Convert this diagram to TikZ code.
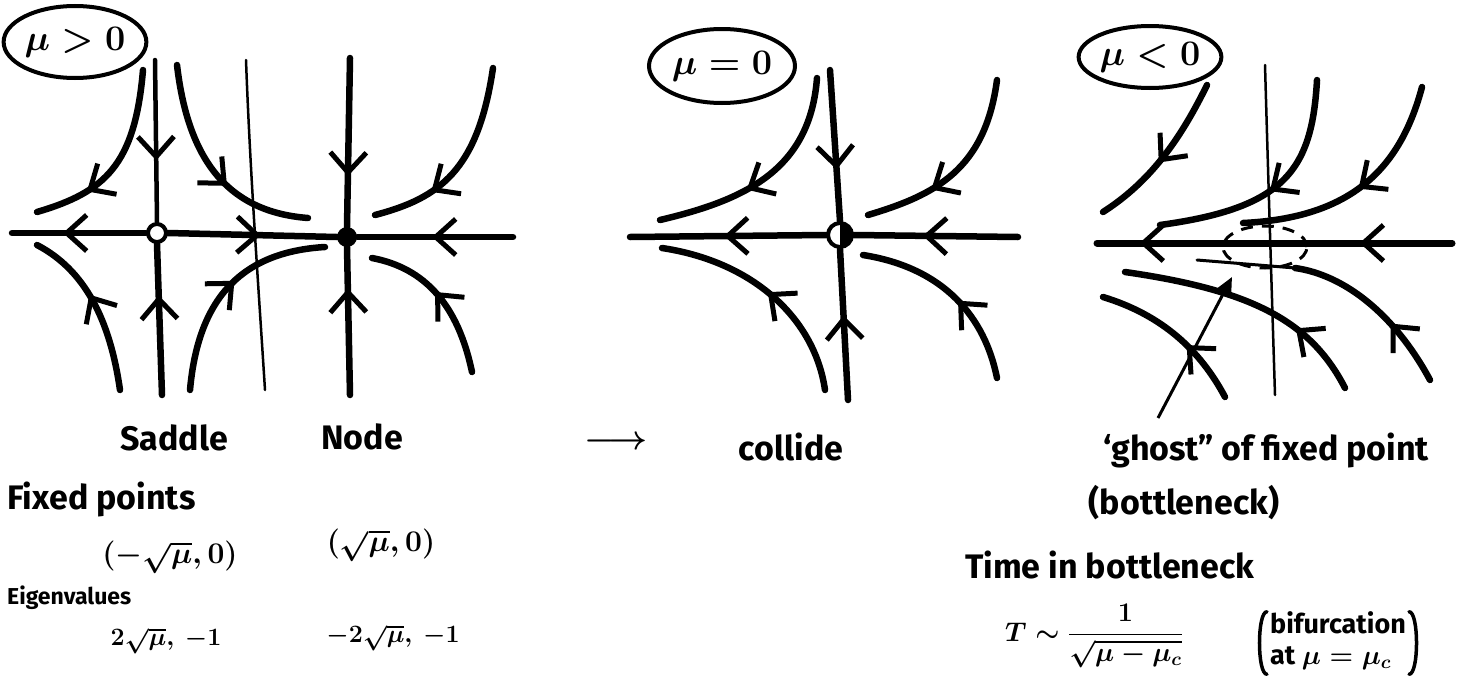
\RequirePackage{fix-cm}
\documentclass[tikz,border=0pt]{standalone}
\usepackage{fontspec}
\setmainfont{Fira Sans}
\usetikzlibrary{arrows.meta,decorations.markings,shapes.geometric}

\tikzset{
  flow/.style={line width=6.5pt, line cap=round},
  axisln/.style={line width=6.5pt, line cap=round},
  vline/.style={line width=4.5pt, line cap=round},
  nullc/.style={line width=2.5pt, line cap=round},
  flowat/.style={postaction={decorate, decoration={markings, mark=at position #1 with {\arrow[line width=5pt, line cap=round, line join=round]{Straight Barb[length=20pt, width=36pt]}}}}},
  saddlept/.style={circle, draw, fill=white, line width=4pt, minimum size=18pt, inner sep=0pt},
  nodept/.style={circle, fill, minimum size=20pt, inner sep=0pt},
  halfpt/.style={circle, draw, fill=white, line width=4pt, minimum size=24pt, inner sep=0pt,
    path picture={\fill[black] (path picture bounding box.north) rectangle (path picture bounding box.south east);}},
  muoval/.style={draw, ellipse, line width=4pt, inner sep=0pt, font=\fontsize{36}{40}\selectfont\boldmath},
  ghostoval/.style={draw, ellipse, dashed, dash pattern=on 12pt off 9pt, line width=3pt, minimum width=84pt, minimum height=42pt, inner sep=0pt},
  pointer/.style={line width=3pt, -{Triangle[length=18pt, width=16pt]}},
  paren/.style={line width=3.5pt, line cap=round},
  lbl/.style={inner sep=0pt, font=\fontsize{34}{40}\selectfont\bfseries\boldmath},
  mathlbl/.style={inner sep=0pt, font=\fontsize{30}{34}\selectfont\bfseries\boldmath},
  mlbl/.style={inner sep=0pt, font=\fontsize{25}{28}\selectfont\bfseries\boldmath},
  slbl/.style={inner sep=0pt, font=\fontsize{23}{26}\selectfont\bfseries\boldmath},
  plbl/.style={inner sep=0pt, font=\fontsize{27}{31}\selectfont\bfseries\boldmath},
  fraclbl/.style={inner sep=0pt, font=\fontsize{27}{31}\selectfont\bfseries\boldmath},
}

\begin{document}
\begin{tikzpicture}[x=1pt,y=-1pt]
\useasboundingbox (0,0) rectangle (1467,688);

% ================= Panel 1 : mu > 0 =================
\node[muoval, minimum width=120pt, minimum height=72pt] (mu1) at (75,42) {$\mu>0$};
\draw[nullc] (246,60) .. controls (250,170) and (258,280) .. (265,390);
\node[saddlept] (sad) at (157,233) {};
\node[nodept] (nd) at (347,237) {};
\coordinate (a1L) at (12,233);
\coordinate (a1R) at (513,237);
\draw[axisln, flowat=0.62] (sad.west) -- (a1L);
\draw[axisln, flowat=0.55] (sad.east) -- (nd.west);
\draw[axisln, flowat=0.52] (a1R) -- (nd.east);
% vertical manifolds
\coordinate (s1T) at (155,60);
\coordinate (s1B) at (162,395);
\draw[vline, flowat=0.62] (s1T) -- (sad.north);
\draw[flow, flowat=0.66] (s1B) -- (sad.south);
\coordinate (n1T) at (350,58);
\coordinate (n1B) at (350,395);
\draw[flow, flowat=0.7] (n1T) -- (nd.north);
\draw[flow, flowat=0.72] (n1B) -- (nd.south);
% trajectories
\draw[flow, flowat=0.72] (143,70) .. controls (135,165) and (105,192) .. (37,212);
\draw[flow, flowat=0.6] (177,65) .. controls (188,160) and (228,212) .. (308,218);
\draw[flow, flowat=0.7] (493,68) .. controls (478,170) and (440,198) .. (375,215);
\draw[flow, flowat=0.58] (120,390) .. controls (110,320) and (85,270) .. (37,245);
\draw[flow, flowat=0.55] (190,390) .. controls (198,300) and (240,252) .. (325,247);
\draw[flow, flowat=0.55] (472,372) .. controls (458,305) and (425,268) .. (372,258);

% ================= Panel 2 : mu = 0 =================
\node[muoval, minimum width=146pt, minimum height=74pt] (mu2) at (722,66) {$\mu=0$};
\node[halfpt] (fp0) at (840,235) {};
\coordinate (a2L) at (630,237);
\coordinate (a2R) at (1018,237);
\draw[axisln, flowat=0.52] (fp0.west) -- (a2L);
\draw[axisln, flowat=0.58] (a2R) -- (fp0.east);
\coordinate (v2T) at (830,70);
\coordinate (v2B) at (848,400);
\draw[flow, flowat=0.66] (v2T) -- (fp0.north);
\draw[flow, flowat=0.56] (v2B) -- (fp0.south);
\draw[flow, flowat=0.6] (817,78) .. controls (810,170) and (745,200) .. (660,220);
\draw[flow, flowat=0.66] (997,80) .. controls (985,170) and (935,195) .. (868,215);
\draw[flow, flowat=0.5] (825,390) .. controls (815,320) and (755,262) .. (662,248);
\draw[flow, flowat=0.45] (997,378) .. controls (985,318) and (945,268) .. (863,255);

% ================= Panel 3 : mu < 0 =================
\node[muoval, minimum width=132pt, minimum height=62pt] (mu3) at (1150,57) {$\mu<0$};
\draw[nullc] (1265,65) .. controls (1268,170) and (1272,300) .. (1275,395);
\node[ghostoval] (ghostpt) at (1265,247) {};
\coordinate (a3R) at (1452,243);
\coordinate (a3L) at (1097,243);
\draw[axisln, line width=7pt, flowat=0.26, flowat=0.88] (a3R) -- (a3L);
\draw[flow, flowat=0.55] (1207,85) .. controls (1180,140) and (1150,182) .. (1103,212);
\draw[flow, flowat=0.52] (1317,80) .. controls (1312,170) and (1285,208) .. (1160,225);
\draw[flow, flowat=0.5] (1422,87) .. controls (1400,170) and (1350,218) .. (1243,223);
\draw[flow, flowat=0.38] (1430,380) .. controls (1395,315) and (1345,275) .. (1295,268);
\draw[nullc, line width=3pt] (1295,268) -- (1197,260);
\draw[flow, flowat=0.3] (1345,388) .. controls (1310,320) and (1250,290) .. (1125,272);
\draw[flow, flowat=0.4] (1225,397) .. controls (1200,350) and (1162,315) .. (1103,297);

% ================= Labels =================
\node[lbl] (saddle) at (174,438) {Saddle};
\node[lbl] (nodelbl) at (362,437) {Node};
\node[lbl] (toarrow) at (616,443) {$\longrightarrow$};
\node[lbl] (collide) at (791,447) {collide};
\node[lbl] (ghost) at (1266,450) {‘ghost” of fixed point};
\coordinate (gtail) at (1158,418);
\coordinate (gtip) at (1232,277);
\draw[pointer] (gtail) -- (gtip);
\node[lbl] (bneck) at (1184,503) {(bottleneck)};

\node[lbl, anchor=west] (fixed) at (7,499) {Fixed points};
\node[mathlbl] (fpa) at (170,557) {$(-\sqrt{\mu},0)$};
\node[mathlbl] (fpb) at (381,545) {$(\sqrt{\mu},0)$};
\node[slbl, anchor=west] (eig) at (7,598) {Eigenvalues};
\node[mlbl] (eva) at (166,641) {$2\sqrt{\mu},\ -1$};
\node[mlbl] (evb) at (393,638) {$-2\sqrt{\mu},\ -1$};

\node[lbl, anchor=west] (time) at (965,565) {Time in bottleneck};
\node[fraclbl, anchor=west] (tsim) at (1005,636) {$T\sim\displaystyle\frac{1}{\sqrt{\mu-\mu_c}}$};
\node[plbl] (bif) at (1338,643) {\begin{tabular}{@{}l@{}}bifurcation\\ at $\mu=\mu_c$\end{tabular}};
\draw[paren] ([xshift=-3pt]bif.north west) .. controls ([xshift=-13pt]bif.north west) and ([xshift=-13pt]bif.south west) .. ([xshift=-3pt]bif.south west);
\draw[paren] ([xshift=3pt]bif.north east) .. controls ([xshift=13pt]bif.north east) and ([xshift=13pt]bif.south east) .. ([xshift=3pt]bif.south east);
\end{tikzpicture}
\end{document}
